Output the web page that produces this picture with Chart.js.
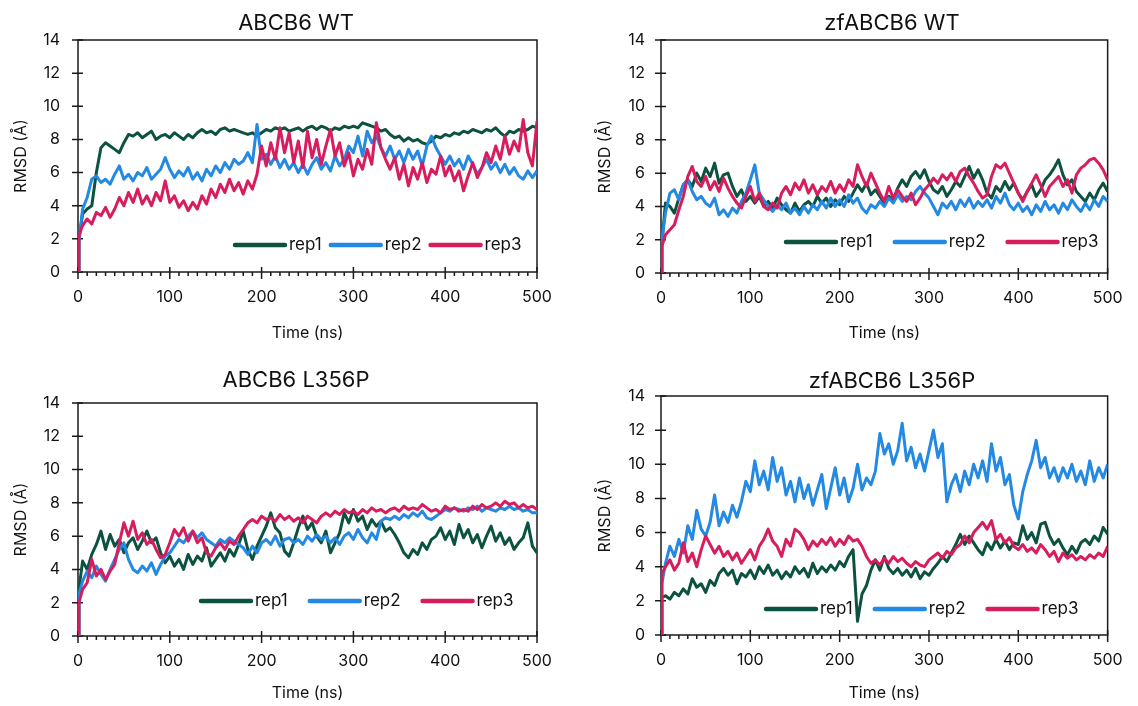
<!DOCTYPE html>
<html>
<head>
<meta charset="utf-8">
<script src="https://cdn.jsdelivr.net/npm/chart.js@4"></script>
<style>
  body { margin: 0; background: #fff; width: 1138px; height: 706px; overflow: hidden; position: relative; }
  canvas { position: absolute; }
</style>
</head>
<body>
<canvas id="p1" width="592" height="355" style="left:0px;top:0px"></canvas>
<canvas id="p2" width="558" height="355" style="left:580px;top:0px"></canvas>
<canvas id="p3" width="592" height="351" style="left:0px;top:355px"></canvas>
<canvas id="p4" width="558" height="351" style="left:580px;top:355px"></canvas>
<script>
// time axis (ns)
const time = [0, 1,
  5, 10, 15, 20, 25, 30, 35, 40, 45, 50,
  55, 60, 65, 70, 75, 80, 85, 90, 95, 100,
  105, 110, 115, 120, 125, 130, 135, 140, 145, 150,
  155, 160, 165, 170, 175, 180, 185, 190, 195, 200,
  205, 210, 215, 220, 225, 230, 235, 240, 245, 250,
  255, 260, 265, 270, 275, 280, 285, 290, 295, 300,
  305, 310, 315, 320, 325, 330, 335, 340, 345, 350,
  355, 360, 365, 370, 375, 380, 385, 390, 395, 400,
  405, 410, 415, 420, 425, 430, 435, 440, 445, 450,
  455, 460, 465, 470, 475, 480, 485, 490, 495, 500];

const names = ["rep1", "rep2", "rep3"];
const colors = ["#0c5241", "#2389e3", "#d81d5f"];

// ABCB6 WT
const wtRep1 = [0, 2.0,
  3.5, 3.8, 4.0, 6.0, 7.5, 7.8, 7.6, 7.4, 7.2, 7.8,
  8.3, 8.2, 8.4, 8.1, 8.3, 8.5, 8.0, 8.2, 8.3, 8.1,
  8.4, 8.2, 8.0, 8.3, 8.1, 8.4, 8.6, 8.4, 8.5, 8.3,
  8.6, 8.7, 8.5, 8.6, 8.5, 8.4, 8.3, 8.4, 8.2, 8.4,
  8.6, 8.5, 8.7, 8.6, 8.7, 8.5, 8.6, 8.7, 8.5, 8.7,
  8.8, 8.6, 8.8, 8.7, 8.5, 8.7, 8.6, 8.8, 8.7, 8.8,
  8.7, 9.0, 8.9, 8.8, 8.7, 8.5, 8.6, 8.3, 8.1, 8.2,
  7.9, 8.1, 7.9, 8.0, 7.8, 7.7, 7.9, 8.2, 8.1, 8.3,
  8.2, 8.4, 8.3, 8.5, 8.4, 8.6, 8.5, 8.4, 8.6, 8.5,
  8.7, 8.4, 8.2, 8.5, 8.4, 8.6, 8.5, 8.6, 8.8, 8.7];
const wtRep2 = [0, 1.8,
  3.8, 4.5, 5.6, 5.8, 5.4, 5.6, 5.3, 5.9, 6.4, 5.6,
  5.9, 5.5, 6.0, 5.8, 6.3, 5.6, 5.9, 6.2, 6.9, 6.2,
  5.7, 6.1, 5.8, 6.3, 5.6, 6.0, 5.5, 6.2, 5.8, 6.4,
  6.0, 6.6, 6.2, 6.8, 6.5, 6.7, 7.2, 6.6, 8.9, 6.8,
  7.1, 6.5, 7.0, 6.3, 6.8, 6.2, 6.6, 6.0, 6.5, 5.9,
  6.5, 6.9, 6.2, 6.6, 6.1, 7.0, 6.4, 6.8, 7.6, 7.2,
  8.2, 7.0, 8.5, 7.8, 8.2, 7.5, 7.0, 7.6, 6.8, 7.3,
  6.6, 7.4, 6.8, 7.3, 6.4, 7.6, 8.2, 7.5, 7.0, 6.5,
  7.0, 6.4, 6.8, 6.2, 7.0, 6.5, 5.9, 6.3, 6.8, 6.2,
  6.6, 6.0, 6.5, 5.9, 6.3, 5.8, 5.6, 6.1, 5.7, 6.1];
const wtRep3 = [0, 2.2,
  2.8, 3.2, 2.9, 3.6, 3.4, 3.9, 3.3, 3.8, 4.5, 4.0,
  4.8, 4.2, 5.0, 4.1, 4.6, 4.0, 4.8, 4.3, 5.5, 4.2,
  4.6, 3.9, 4.3, 3.7, 4.2, 3.8, 4.6, 4.1, 5.0, 4.5,
  5.3, 4.8, 5.6, 4.9, 5.4, 4.7, 5.5, 5.0, 5.9, 7.6,
  6.4, 7.8, 6.8, 8.7, 7.2, 8.4, 6.6, 7.9, 6.3, 8.5,
  6.9, 8.0, 6.5, 7.6, 8.6, 7.0, 7.8, 6.4, 7.2, 5.8,
  6.8, 6.2, 7.4, 6.5, 9.0, 7.5, 6.8, 6.2, 6.9, 5.6,
  6.5, 5.2, 6.3, 5.6, 6.6, 5.4, 6.2, 5.9, 7.0, 5.8,
  6.4, 5.5, 6.1, 4.9, 5.8, 6.6, 5.7, 6.3, 7.2, 6.6,
  7.6, 6.8, 8.2, 7.1, 7.9, 7.3, 9.2, 7.2, 6.4, 9.1];

// zfABCB6 WT
const zfRep1 = [0, 1.8,
  4.2, 4.0, 3.6, 4.5, 5.3, 5.6, 5.2, 6.0, 5.5, 6.3,
  5.8, 6.6, 5.4, 5.9, 6.0, 5.2, 4.6, 5.0, 4.3, 4.6,
  4.2, 4.6, 4.0, 4.3, 3.9, 4.5, 4.1, 3.8, 3.6, 4.2,
  3.7, 4.1, 4.3, 4.0, 4.6, 4.2, 4.5, 4.0, 4.4, 4.1,
  4.6, 4.3, 4.8, 5.3, 4.9, 5.4, 4.7, 5.0, 4.6, 4.2,
  4.6, 4.4, 5.1, 5.6, 5.2, 5.8, 6.1, 5.7, 6.2, 5.5,
  5.0, 4.8, 5.2, 4.6, 5.0, 5.5, 5.2, 5.8, 6.4, 5.7,
  6.2, 5.6, 4.8, 4.5, 5.2, 4.9, 5.5, 5.0, 5.4, 4.8,
  4.4, 4.9, 5.3, 4.6, 5.0, 5.6, 5.9, 6.3, 6.8, 5.9,
  5.3, 5.6, 4.9, 4.6, 4.3, 4.8, 4.4, 5.0, 5.4, 4.9];
const zfRep2 = [0, 2.0,
  3.6, 4.8, 5.0, 4.4, 5.3, 5.6, 4.9, 4.4, 4.6, 4.2,
  4.0, 4.5, 3.5, 3.8, 3.4, 3.9, 3.6, 4.3, 4.8, 5.6,
  6.5, 4.8, 4.4, 4.0, 3.7, 4.1, 3.8, 4.2, 3.6, 3.9,
  3.5, 4.0, 3.6, 4.1, 3.8, 4.3, 3.9, 4.5, 4.0, 4.4,
  4.0, 4.7, 4.2, 4.5, 3.9, 3.6, 4.1, 3.9, 4.3, 4.0,
  4.5, 4.2, 4.7, 4.3, 4.6, 4.4, 4.9, 5.2, 4.8, 4.5,
  4.0, 3.5, 4.2, 3.9, 4.3, 3.8, 4.4, 4.0, 4.5, 3.9,
  4.3, 4.0, 4.4, 3.9, 4.6, 4.2, 4.8, 4.1, 3.8, 4.2,
  3.7, 4.0, 3.5, 4.1, 3.7, 4.3, 3.8, 4.1, 3.6, 4.2,
  3.8, 4.4, 4.0, 3.7, 4.2, 3.8, 4.4, 4.0, 4.6, 4.3];
const zfRep3 = [0, 1.6,
  2.3, 2.6, 2.9, 3.8, 4.6, 5.8, 6.4, 5.5, 5.2, 5.8,
  5.0, 5.5, 4.9, 5.7, 5.1, 4.6, 4.2, 3.9, 4.6, 5.2,
  4.3, 4.8, 4.0, 3.8, 4.2, 3.9, 4.8, 5.2, 4.7, 5.4,
  5.0, 5.6, 4.8, 5.3, 4.7, 5.2, 4.9, 5.5, 4.8, 5.3,
  4.9, 5.6, 5.2, 6.5, 5.8, 5.2, 6.0, 5.4, 4.8, 4.3,
  5.2, 4.5, 5.0, 4.6, 4.3, 4.8, 4.1, 4.5, 5.0, 5.3,
  5.7, 5.4, 5.9, 5.6, 6.0, 5.5, 6.1, 6.3, 5.8, 5.4,
  4.9, 4.5, 4.7, 5.8, 6.5, 6.3, 6.6, 6.0, 5.4, 4.8,
  4.3, 4.9, 5.4, 5.9, 5.3, 4.6, 5.2, 5.5, 5.8, 5.2,
  5.6, 4.8, 5.9, 6.3, 6.5, 6.8, 6.9, 6.6, 6.2, 5.6];

// ABCB6 L356P
const lpRep1 = [0, 2.8,
  4.5, 4.0, 4.9, 5.5, 6.3, 5.2, 6.1, 5.4, 5.8, 5.0,
  5.6, 5.9, 5.2, 5.7, 6.3, 5.6, 5.9, 5.0, 4.4, 4.8,
  4.2, 4.6, 4.0, 4.9, 4.3, 4.8, 4.5, 5.3, 4.2, 4.6,
  5.0, 4.5, 5.2, 4.8, 5.5, 6.3, 5.2, 4.6, 5.4, 6.0,
  6.6, 7.4, 6.5, 6.2, 5.1, 4.8, 5.6, 6.5, 7.2, 6.4,
  6.8, 6.0, 5.6, 6.3, 5.0, 5.6, 6.2, 7.4, 6.8, 7.6,
  6.9, 7.2, 6.4, 7.0, 6.6, 6.9, 6.3, 6.5, 6.1, 5.6,
  5.0, 4.7, 5.2, 4.9, 5.6, 5.2, 5.8, 6.0, 6.5, 5.8,
  6.3, 5.5, 6.7, 5.9, 6.4, 5.6, 6.1, 5.3, 6.0, 6.6,
  5.7, 6.2, 5.5, 5.9, 5.2, 5.6, 5.9, 6.8, 5.4, 5.0];
const lpRep2 = [0, 2.5,
  3.3, 3.9, 3.5, 4.2, 3.7, 3.3, 4.0, 4.6, 5.2, 5.6,
  4.6, 4.0, 3.8, 4.2, 3.9, 4.4, 3.7, 4.3, 4.8, 5.0,
  5.4, 5.8, 5.6, 6.0, 6.3, 5.9, 6.2, 5.8, 5.6, 5.4,
  5.8, 5.6, 5.9, 5.7, 5.5, 5.3, 4.9, 5.4, 5.0, 5.6,
  5.8, 5.5, 6.0, 5.4, 5.8, 5.9, 5.6, 5.8, 5.5, 6.0,
  5.7, 6.1, 5.8, 6.0, 5.6, 5.9, 5.5, 6.0, 6.2, 5.8,
  6.4, 5.9, 5.6, 6.2, 5.8, 6.9, 7.1, 7.0, 7.2, 7.0,
  7.3, 7.1, 7.4, 7.2, 7.5, 7.1, 7.0, 7.2, 7.4, 7.6,
  7.5, 7.7, 7.6, 7.5, 7.7, 7.6, 7.8, 7.5, 7.7, 7.6,
  7.5, 7.7, 7.6, 7.8, 7.6, 7.7, 7.5, 7.6, 7.4, 7.4];
const lpRep3 = [0, 2.0,
  2.8, 3.2, 4.6, 3.6, 4.0, 3.4, 3.9, 4.3, 5.6, 6.8,
  6.0, 6.9, 5.8, 6.2, 5.5, 5.8, 5.2, 4.7, 4.9, 5.6,
  6.4, 6.0, 6.5, 5.7, 6.3, 5.6, 5.9, 5.0, 4.8, 5.3,
  5.6, 5.2, 5.7, 5.5, 6.0, 6.4, 6.8, 7.0, 6.8, 7.2,
  7.0, 7.1, 6.9, 7.3, 7.0, 7.2, 6.9, 7.1, 6.8, 7.2,
  7.0, 6.8, 7.2, 7.4, 7.2, 7.5, 7.3, 7.6, 7.4, 7.5,
  7.3, 7.6, 7.4, 7.7, 7.5, 7.6, 7.4, 7.6, 7.7, 7.5,
  7.8, 7.6, 7.7, 7.6, 7.9, 7.7, 7.5, 7.6, 7.4, 7.8,
  7.6, 7.7, 7.5, 7.6, 7.5, 7.8, 7.6, 7.9, 7.7, 7.8,
  8.0, 7.8, 8.1, 7.9, 8.0, 7.7, 7.9, 7.7, 7.8, 7.6];

// zfABCB6 L356P
const zlRep1 = [0, 2.2,
  2.3, 2.1, 2.5, 2.3, 2.7, 2.4, 3.3, 2.8, 3.0, 2.5,
  3.2, 2.9, 3.6, 3.9, 3.5, 3.8, 3.0, 3.6, 3.4, 3.8,
  3.3, 4.0, 3.6, 4.1, 3.5, 3.8, 3.3, 3.7, 3.4, 4.0,
  3.6, 3.9, 3.4, 4.2, 3.6, 4.0, 3.7, 4.1, 3.8, 4.3,
  4.0, 4.6, 5.0, 0.8, 2.4, 2.9, 3.8, 4.4, 3.8, 4.6,
  3.9, 3.6, 3.9, 3.5, 3.8, 3.4, 3.9, 3.3, 3.7, 3.5,
  3.9, 4.2, 4.6, 4.3, 4.8, 5.3, 5.9, 5.3, 5.8, 5.4,
  5.0, 4.7, 5.4, 5.0, 5.6, 5.1, 5.5, 5.0, 5.4, 5.3,
  6.4, 5.6, 6.0, 5.4, 6.5, 6.6, 5.8, 5.3, 5.6, 5.1,
  4.7, 5.2, 4.8, 5.4, 5.6, 5.3, 5.8, 5.5, 6.3, 5.9];
const zlRep2 = [0, 3.0,
  4.2, 5.2, 4.6, 5.6, 4.8, 6.4, 5.6, 7.3, 6.2, 5.8,
  6.6, 8.2, 6.4, 7.2, 6.6, 7.6, 6.9, 7.8, 9.0, 8.4,
  10.2, 8.8, 9.6, 8.5, 10.4, 9.0, 9.8, 8.2, 9.0, 7.8,
  9.2, 8.0, 8.8, 7.6, 8.5, 9.4, 7.4, 8.6, 9.8, 8.2,
  9.2, 7.8, 8.6, 10.0, 8.5, 9.2, 8.8, 9.6, 11.8, 10.6,
  11.2, 10.0, 10.8, 12.4, 10.2, 11.0, 9.8, 10.6, 9.6, 10.8,
  12.0, 10.4, 11.2, 7.8, 8.8, 9.4, 8.4, 9.6, 8.8, 10.0,
  9.2, 10.2, 9.0, 11.2, 9.6, 10.4, 8.8, 9.4, 7.6, 6.8,
  8.4, 9.4, 10.2, 11.4, 9.8, 10.4, 9.2, 9.8, 9.0, 9.8,
  9.2, 10.0, 9.0, 9.6, 8.8, 10.2, 9.0, 9.8, 9.2, 10.0];
const zlRep3 = [0, 3.6,
  4.0, 4.4, 3.8, 4.2, 5.4, 4.3, 4.8, 4.0, 5.0, 5.8,
  5.3, 4.8, 5.2, 4.6, 4.9, 4.4, 4.8, 4.2, 4.6, 5.0,
  4.4, 5.2, 5.6, 6.2, 5.5, 5.2, 4.6, 5.6, 5.2, 6.2,
  6.0, 5.6, 5.0, 5.5, 5.2, 5.6, 5.3, 5.7, 5.2, 5.6,
  5.3, 5.8, 5.5, 5.6, 5.2, 4.6, 4.2, 4.4, 4.1, 4.5,
  4.2, 4.6, 4.3, 4.5, 4.2, 4.0, 4.3, 4.1, 4.0, 4.4,
  4.6, 4.8, 4.5, 4.9, 4.7, 5.1, 5.3, 5.8, 5.4, 6.0,
  6.3, 6.6, 6.2, 6.7, 5.6, 5.9, 5.4, 5.7, 5.2, 5.0,
  5.3, 4.9, 5.1, 4.8, 5.3, 5.0, 4.6, 4.9, 4.3, 4.8,
  4.5, 4.7, 4.4, 4.6, 4.4, 4.7, 4.5, 4.8, 4.6, 5.2];

Chart.defaults.font.family = "Inter, 'Open Sans', sans-serif";
Chart.defaults.color = "#111";

// box round the plot, crossing ticks on both axes
const frame = {
    id: "frame",
    beforeDatasetsDraw(chart) {
        const { ctx, chartArea: a, scales: { x, y } } = chart;
        ctx.save();
        ctx.strokeStyle = "#1a1a1a";
        ctx.lineWidth = 1.5;
        ctx.strokeRect(a.left, a.top, a.width, a.height);
        ctx.beginPath();
        y.ticks.forEach(t => {
            const py = y.getPixelForValue(t.value);
            ctx.moveTo(a.left - 6, py);
            ctx.lineTo(a.left + 5, py);
        });
        x.ticks.forEach(t => {
            const px = x.getPixelForValue(t.value);
            const major = t.value % 100 === 0;
            ctx.moveTo(px, a.bottom - (major ? 5 : 0));
            ctx.lineTo(px, a.bottom + (major ? 7 : 4));
        });
        ctx.stroke();
        ctx.restore();
    }
};

// legend drawn inside the plot, near the bottom
const innerLegend = {
    id: "innerLegend",
    afterDatasetsDraw(chart, args, opts) {
        const { ctx, chartArea: a } = chart;
        let x = a.left + opts.left;
        const y = a.bottom - opts.up;
        ctx.save();
        ctx.font = "17px Inter, 'Open Sans', sans-serif";
        ctx.textBaseline = "middle";
        ctx.lineCap = "round";
        chart.data.datasets.forEach(ds => {
            ctx.strokeStyle = ds.borderColor;
            ctx.lineWidth = 4.5;
            ctx.beginPath();
            ctx.moveTo(x, y);
            ctx.lineTo(x + 50, y);
            ctx.stroke();
            x += 54;
            ctx.fillStyle = "#111";
            ctx.fillText(ds.label, x, y);
            x += ctx.measureText(ds.label).width + opts.gap;
        });
        ctx.restore();
    }
};

const heading = {
    id: "heading",
    afterDraw(chart, args, opts) {
        const ctx = chart.ctx;
        ctx.save();
        ctx.font = "22px Inter, 'Open Sans', sans-serif";
        ctx.fillStyle = "#111";
        ctx.textAlign = "center";
        ctx.textBaseline = "middle";
        ctx.fillText(opts.text, opts.x, opts.y);
        ctx.restore();
    }
};

function makePanel(id, title, reps, g) {
    new Chart(document.getElementById(id), {
        type: "line",
        data: {
            datasets: reps.map((vals, i) => ({
                label: names[i],
                data: vals.map((v, k) => ({ x: time[k], y: v })),
                borderColor: colors[i],
                borderWidth: 3,
                borderJoinStyle: "round",
                pointRadius: 0,
                tension: 0,
                order: 3 - i
            }))
        },
        options: {
            responsive: false,
            animation: false,
            layout: { padding: { top: g.top, right: g.right, left: 0, bottom: 0 } },
            plugins: {
                legend: { display: false },
                tooltip: { enabled: false },
                heading: { text: title, x: g.titleX, y: g.titleY },
                innerLegend: { left: g.legLeft, up: g.legUp, gap: g.legGap }
            },
            scales: {
                x: {
                    type: "linear",
                    min: 0,
                    max: 500,
                    grid: { display: false, drawTicks: false },
                    border: { display: false },
                    ticks: {
                        stepSize: 10,
                        autoSkip: false,
                        maxRotation: 0,
                        padding: g.xPad,
                        font: { size: 16 },
                        callback: v => (v % 100 === 0 ? v : "")
                    },
                    title: { display: true, text: "Time (ns)", font: { size: 16 }, padding: { top: 0, bottom: g.xTitlePad } },
                    afterFit: s => { s.height = g.xHeight; }
                },
                y: {
                    min: 0,
                    max: 14,
                    grid: { display: false, drawTicks: false },
                    border: { display: false },
                    ticks: { stepSize: 2, padding: g.yPad, font: { size: 16 } },
                    title: { display: true, text: "RMSD (Å)", font: { size: 16 }, padding: { top: g.yTitlePad, bottom: 0 } },
                    afterFit: s => { s.width = g.yWidth; }
                }
            }
        },
        plugins: [frame, innerLegend, heading]
    });
}

makePanel("p1", "ABCB6 WT", [wtRep1, wtRep2, wtRep3], {
    top: 40, right: 55, yWidth: 78, xHeight: 83, titleX: 296, titleY: 23,
    xPad: 16, xTitlePad: 12.4, yPad: 18, yTitlePad: 11.4, legLeft: 157, legUp: 27, legGap: 9
});
makePanel("p2", "zfABCB6 WT", [zfRep1, zfRep2, zfRep3], {
    top: 40, right: 18, yWidth: 81, xHeight: 82, titleX: 312, titleY: 23.5,
    xPad: 15.4, xTitlePad: 12.4, yPad: 16, yTitlePad: 15.4, legLeft: 125, legUp: 31, legGap: 22
});
makePanel("p3", "ABCB6 L356P", [lpRep1, lpRep2, lpRep3], {
    top: 48, right: 55, yWidth: 78, xHeight: 70, titleX: 296, titleY: 25.5,
    xPad: 15.4, xTitlePad: 3.4, yPad: 18, yTitlePad: 11.4, legLeft: 123, legUp: 35, legGap: 22
});
makePanel("p4", "zfABCB6 L356P", [zlRep1, zlRep2, zlRep3], {
    top: 41, right: 18, yWidth: 81, xHeight: 71, titleX: 312, titleY: 26,
    xPad: 15.4, xTitlePad: 3.4, yPad: 16, yTitlePad: 15.4, legLeft: 105, legUp: 26, legGap: 22
});
</script>
</body>
</html>
